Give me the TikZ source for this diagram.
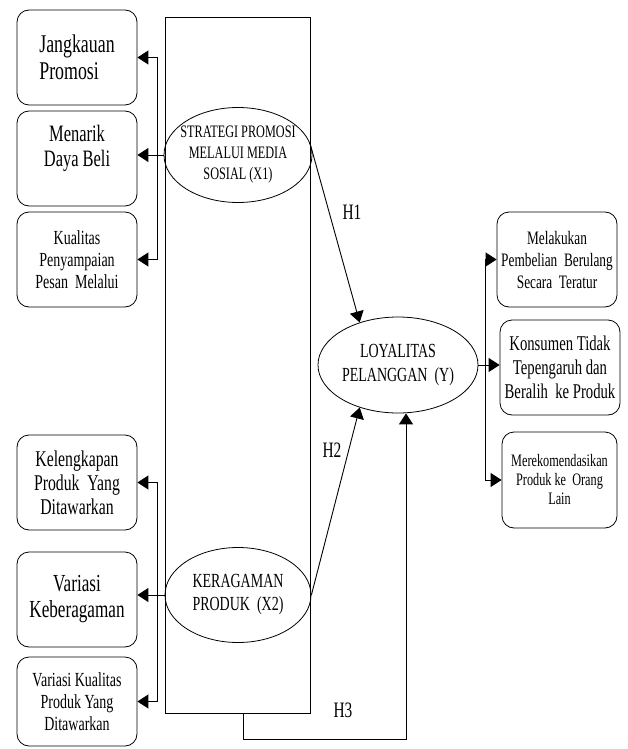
\documentclass[tikz,border=0pt]{standalone}
\usepackage{fontspec}
\setmainfont{Liberation Serif}[FakeStretch=0.70]
\usetikzlibrary{arrows.meta,shapes.geometric}
\newcommand{\fz}[2]{\fontsize{#1}{#2}\selectfont}
\tikzset{
  ind/.style ={draw,line width=.8pt,rounded corners=12pt,minimum width=120pt,minimum height=95pt,align=center,inner sep=2pt},
  var/.style ={draw,ellipse,line width=.8pt,align=center,inner xsep=-8pt,inner ysep=0pt},
  frm/.style ={draw,line width=.9pt,minimum width=145pt,minimum height=696pt},
  a/.style   ={-{Triangle[length=11pt,width=14pt]},line width=.9pt},
  hl/.style  ={font=\fz{22}{24}},
}
\begin{document}
\begin{tikzpicture}[x=1pt,y=-1pt]
\useasboundingbox (0,0) rectangle (628,749);
% ===== frame round the two variables =====
\node[frm] (frame) at (237.5,365) {};

% ===== indicators X1 (left, top) =====
\node[ind,align=left,font=\fz{25.5}{27}] (b1) at (77,57.5) {Jangkauan\\Promosi};
\node[ind,font=\fz{23.5}{25}] (b2) at (77,158.5) {Menarik\\Daya Beli\\\mbox{}};
\node[ind,font=\fz{20}{22}] (b3) at (77,259.5) {Kualitas\\Penyampaian\\Pesan~ Melalui};

% ===== indicators X2 (left, bottom) =====
\node[ind,font=\fz{22.5}{24}] (b4) at (77,482.5) {Kelengkapan\\Produk~ Yang\\Ditawarkan};
\node[ind,font=\fz{24.5}{26}] (b5) at (77,599.5) {Variasi\\Keberagaman};
\node[ind,minimum height=89pt,font=\fz{20}{22}] (b6) at (77,701.5) {Variasi Kualitas\\Produk Yang\\Ditawarkan};

% ===== variables =====
\node[var,minimum width=148pt,minimum height=95pt,font=\fz{17.5}{21}] (x1) at (238,155) {STRATEGI PROMOSI\\MELALUI MEDIA\\SOSIAL (X1)};
\node[var,minimum width=146pt,minimum height=95pt,font=\fz{20}{23}] (x2) at (238,595) {KERAGAMAN\\PRODUK~ (X2)};
\node[var,minimum width=160pt,minimum height=96pt,font=\fz{20}{24}] (y) at (398,365) {LOYALITAS\\PELANGGAN~ (Y)};

% ===== indicators Y (right) =====
\node[ind,font=\fz{19}{22}] (r1) at (557,259.5) {Melakukan\\Pembelian~ Berulang\\Secara~ Teratur};
\node[ind,font=\fz{21}{24}] (r2) at (560,367.5) {Konsumen Tidak\\Tepengaruh dan\\Beralih~ ke Produk};
\node[ind,minimum width=115pt,minimum height=96pt,font=\fz{17.5}{19}] (r3) at (559.5,480) {Merekomendasikan\\Produk ke~ Orang\\Lain};

% ===== spines =====
\coordinate (sp) at (157,0);
\coordinate (rs) at (485,0);
\draw[a] (sp |- x1.west) |- (b1.east);
\draw[a] (sp |- x1.west) |- (b3.east);
\draw[a] (x1.west) -- (x1.west -| b2.east);
\draw[a] (sp |- x2.west) |- (b4.east);
\draw[a] (sp |- x2.west) |- (b6.east);
\draw[a] (x2.west) -- (x2.west -| b5.east);
\draw[a] (y.east) -- (y.east -| r2.west);
\draw[a] (rs |- y.east) |- (r1.west);
\draw[a] (rs |- y.east) |- (r3.west);

% ===== hypotheses =====
\draw[a] (x1.10) -- (y.132);
\draw[a] (x2.east) -- (y.228);
\coordinate (h3a) at (243,739);
\coordinate (h3b) at (406,739);
\draw[a] (h3a |- frame.south) -- (h3a) -- (h3b) -- (h3b |- y.south);
\node[hl] (h1) at (352,212) {H1};
\node[hl] (h2) at (332,450) {H2};
\node[hl] (h3) at (343,710) {H3};
\end{tikzpicture}
\end{document}
